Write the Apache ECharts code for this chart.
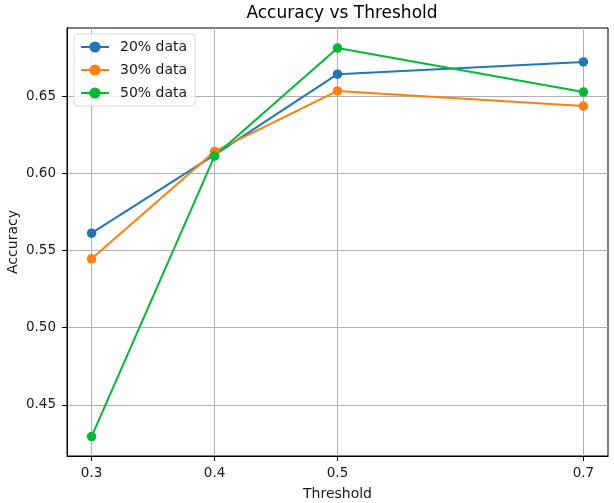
<!DOCTYPE html>
<html>
<head>
<meta charset="utf-8">
<script src="https://cdn.jsdelivr.net/npm/echarts@6/dist/echarts.min.js"></script>
<style>
  html, body { margin: 0; padding: 0; background: #fff; }
  #chart { width: 614px; height: 503px; }
</style>
</head>
<body>
<div id="chart"></div>
<script>
var thresholds = [0.3, 0.4, 0.5, 0.7];
var xTicks = [0.3, 0.4, 0.5, 0.7];
var yTicks = [0.45, 0.50, 0.55, 0.60, 0.65];
var seriesNames = ['20% data', '30% data', '50% data'];
var acc20 = [0.5612, 0.6120, 0.6643, 0.6722];
var acc30 = [0.5446, 0.6142, 0.6534, 0.6436];
var acc50 = [0.4294, 0.6112, 0.6812, 0.6527];
var colors = ['#1f77b4', '#ff7f0e', '#00bb33'];

(function() {
  var font = 'DejaVu Sans';
  var ink = '#1a1a1a';
  var gridColor = '#b0b0b0';

  function pairs(ys) {
    return thresholds.map(function(x, i) { return [x, ys[i]]; });
  }

  function lineSeries(name, ys, color) {
    return {
      name: name,
      type: 'line',
      data: pairs(ys),
      symbol: 'circle',
      symbolSize: 9.5,
      lineStyle: { width: 2, color: color },
      itemStyle: { color: color },
      emphasis: { disabled: true }
    };
  }

  var chart = echarts.init(document.getElementById('chart'), null, { renderer: 'canvas' });
  chart.setOption({
    animation: false,
    backgroundColor: '#ffffff',
    textStyle: { fontFamily: font },
    title: {
      text: 'Accuracy vs Threshold',
      left: 337,
      textAlign: 'center',
      top: 0,
      textStyle: { fontFamily: font, fontSize: 17, fontWeight: 'normal', color: '#000' }
    },
    legend: {
      orient: 'vertical',
      left: 74,
      top: 34,
      padding: [6, 8, 6, 6],
      itemGap: 9,
      itemWidth: 28,
      itemHeight: 14,
      borderColor: '#d8d8d8',
      borderWidth: 1,
      borderRadius: 3,
      backgroundColor: 'rgba(255,255,255,0.8)',
      textStyle: { fontFamily: font, fontSize: 14, color: ink, padding: [0, 0, 0, 6] },
      data: seriesNames
    },
    grid: {
      left: 67, right: 6, top: 28, bottom: 47,
      outerBoundsMode: 'none',
      show: true,
      borderColor: '#000',
      borderWidth: 1
    },
    xAxis: {
      type: 'value',
      min: 0.28,
      max: 0.72,
      name: 'Threshold',
      nameLocation: 'middle',
      nameGap: 31,
      nameMoveOverlap: false,
      nameTextStyle: { fontFamily: font, fontSize: 14, color: ink },
      axisLine: { show: true, onZero: false, lineStyle: { color: '#000' } },
      axisTick: { show: true, length: 5, customValues: xTicks, lineStyle: { color: '#000' } },
      axisLabel: {
        customValues: xTicks,
        fontFamily: font, fontSize: 13.5, color: ink, margin: 10,
        formatter: function(v) { return v.toFixed(1); }
      },
      splitLine: { show: true, lineStyle: { color: gridColor, width: 1 } }
    },
    yAxis: {
      type: 'value',
      min: 0.4168,
      max: 0.6942,
      name: 'Accuracy',
      nameLocation: 'middle',
      nameGap: 47,
      nameMoveOverlap: false,
      nameTextStyle: { fontFamily: font, fontSize: 14, color: ink },
      axisLine: { show: true, lineStyle: { color: '#000' } },
      axisTick: { show: true, length: 5, customValues: yTicks, lineStyle: { color: '#000' } },
      axisLabel: {
        customValues: yTicks,
        fontFamily: font, fontSize: 13.5, color: ink, margin: 11,
        formatter: function(v) { return v.toFixed(2); }
      },
      splitLine: { show: true, lineStyle: { color: gridColor, width: 1 } }
    },
    series: [
      lineSeries(seriesNames[0], acc20, colors[0]),
      lineSeries(seriesNames[1], acc30, colors[1]),
      lineSeries(seriesNames[2], acc50, colors[2])
    ]
  });
})();
</script>
</body>
</html>
